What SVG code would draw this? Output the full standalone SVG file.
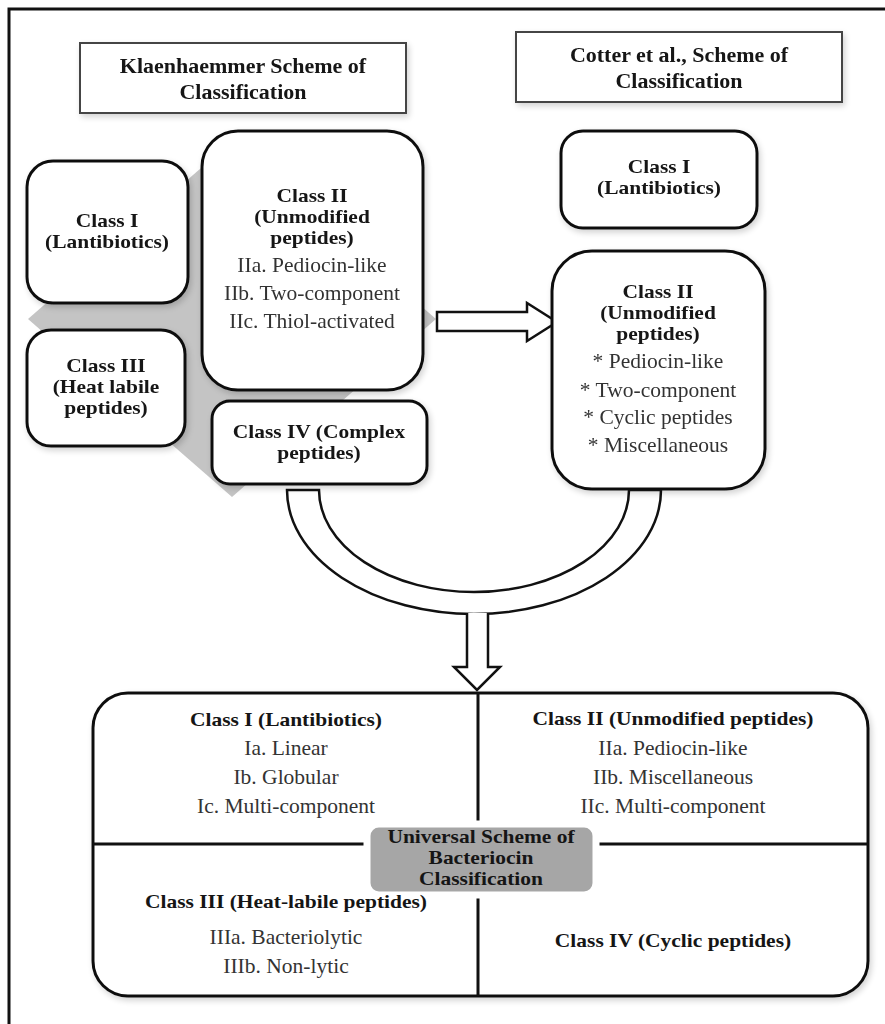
<svg xmlns="http://www.w3.org/2000/svg" width="885" height="1024" viewBox="0 0 885 1024">
<defs>
<filter id="sh" x="-10%" y="-10%" width="130%" height="130%">
<feGaussianBlur in="SourceAlpha" stdDeviation="3"/>
<feOffset dx="2" dy="3" result="b"/>
<feComponentTransfer><feFuncA type="linear" slope="0.18"/></feComponentTransfer>
<feMerge><feMergeNode/><feMergeNode in="SourceGraphic"/></feMerge>
</filter>
<style>
text{font-family:"Liberation Serif","Times New Roman",serif;text-anchor:middle}
.b{font-weight:bold;fill:#151515;font-size:19px}
.t{font-weight:bold;fill:#151515;font-size:20px}
.r{fill:#333;font-size:21.5px}
.node{fill:#fff;stroke:#111;stroke-width:3}
.title{fill:#fff;stroke:#444;stroke-width:2}
.conn{fill:#fff;stroke:#111;stroke-width:2.5;stroke-linejoin:miter}
.div{stroke:#111;stroke-width:3;fill:none}
</style>
</defs>
<rect x="0" y="0" width="885" height="1024" fill="#fff"/>
<rect id="frame" x="9" y="9" width="890" height="1030" fill="none" stroke="#111" stroke-width="3"/>

<polygon id="bg-diamond" points="232,141 436,319 232,497 28,319" fill="#c4c4c4"/>

<g id="connectors">
<path d="M437,312 L527,312 L527,303 L557,322 L527,341 L527,331 L437,331 Z" class="conn"/>
<path d="M287,490 A187,124 0 0 0 661,490 L629,490 A155,102 0 0 1 319,490 Z" class="conn" stroke-width="2"/>
<path d="M467,613 L467,667 L454,667 L477,690 L500,667 L488,667 L488,613" class="conn" stroke-width="2.5"/>
</g>

<g id="title-klaenhaemmer" filter="url(#sh)">
<rect x="80" y="43" width="326" height="70" class="title"/>
<text class="t" transform="translate(243,73) scale(1.1,1)">Klaenhaemmer Scheme of</text>
<text class="t" transform="translate(243,99) scale(1.1,1)">Classification</text>
</g>
<g id="title-cotter" filter="url(#sh)">
<rect x="516" y="32" width="326" height="70" class="title"/>
<text class="t" transform="translate(679,62) scale(1.1,1)">Cotter et al., Scheme of</text>
<text class="t" transform="translate(679,88) scale(1.1,1)">Classification</text>
</g>

<g id="k-class1" filter="url(#sh)">
<rect x="27" y="161" width="161" height="142" rx="26" class="node"/>
<text class="b" transform="translate(107,227) scale(1.13,1)">Class I</text>
<text class="b" transform="translate(107,248) scale(1.13,1)">(Lantibiotics)</text>
</g>
<g id="k-class2" filter="url(#sh)">
<rect x="202" y="131" width="221" height="259" rx="36" class="node"/>
<text class="b" transform="translate(312,202) scale(1.13,1)">Class II</text>
<text class="b" transform="translate(312,223) scale(1.13,1)">(Unmodified</text>
<text class="b" transform="translate(312,244) scale(1.13,1)">peptides)</text>
<text x="312" y="272" class="r">IIa. Pediocin-like</text>
<text x="312" y="300" class="r">IIb. Two-component</text>
<text x="312" y="328" class="r">IIc. Thiol-activated</text>
</g>
<g id="k-class3" filter="url(#sh)">
<rect x="27" y="330" width="158" height="116" rx="24" class="node"/>
<text class="b" transform="translate(106,372) scale(1.13,1)">Class III</text>
<text class="b" transform="translate(106,393) scale(1.13,1)">(Heat labile</text>
<text class="b" transform="translate(106,414) scale(1.13,1)">peptides)</text>
</g>
<g id="k-class4" filter="url(#sh)">
<rect x="212" y="401" width="215" height="83" rx="18" class="node"/>
<text class="b" transform="translate(319,438) scale(1.13,1)">Class IV (Complex</text>
<text class="b" transform="translate(319,459) scale(1.13,1)">peptides)</text>
</g>

<g id="c-class1" filter="url(#sh)">
<rect x="561" y="131" width="196" height="97" rx="22" class="node"/>
<text class="b" transform="translate(659,173) scale(1.13,1)">Class I</text>
<text class="b" transform="translate(659,194) scale(1.13,1)">(Lantibiotics)</text>
</g>
<g id="c-class2" filter="url(#sh)">
<rect x="552" y="251" width="213" height="238" rx="40" class="node"/>
<text class="b" transform="translate(658,298) scale(1.13,1)">Class II</text>
<text class="b" transform="translate(658,319) scale(1.13,1)">(Unmodified</text>
<text class="b" transform="translate(658,340) scale(1.13,1)">peptides)</text>
<text x="658" y="368" class="r">* Pediocin-like</text>
<text x="658" y="397" class="r">* Two-component</text>
<text x="658" y="424" class="r">* Cyclic peptides</text>
<text x="658" y="452" class="r">* Miscellaneous</text>
</g>

<g id="universal">
<rect x="93" y="693" width="775" height="303" rx="35" class="node" filter="url(#sh)"/>
<line x1="478" y1="693" x2="478" y2="996" class="div"/>
<line x1="93" y1="844" x2="868" y2="844" class="div"/>
<g id="u-center">
<rect x="367" y="824" width="229" height="71" rx="12" fill="#a6a6a6" stroke="#fff" stroke-width="7"/>
<text class="b" transform="translate(481,843) scale(1.13,1)">Universal Scheme of</text>
<text class="b" transform="translate(481,864) scale(1.13,1)">Bacteriocin</text>
<text class="b" transform="translate(481,885) scale(1.13,1)">Classification</text>
</g>
<g id="u-class1">
<text class="b" transform="translate(286,726) scale(1.13,1)">Class I (Lantibiotics)</text>
<text x="286" y="755" class="r">Ia. Linear</text>
<text x="286" y="784" class="r">Ib. Globular</text>
<text x="286" y="813" class="r">Ic. Multi-component</text>
</g>
<g id="u-class2">
<text class="b" transform="translate(673,725) scale(1.13,1)">Class II (Unmodified peptides)</text>
<text x="673" y="755" class="r">IIa. Pediocin-like</text>
<text x="673" y="784" class="r">IIb. Miscellaneous</text>
<text x="673" y="813" class="r">IIc. Multi-component</text>
</g>
<g id="u-class3">
<text class="b" transform="translate(286,908) scale(1.13,1)">Class III (Heat-labile peptides)</text>
<text x="286" y="944" class="r">IIIa. Bacteriolytic</text>
<text x="286" y="973" class="r">IIIb. Non-lytic</text>
</g>
<g id="u-class4">
<text class="b" transform="translate(673,947) scale(1.13,1)">Class IV (Cyclic peptides)</text>
</g>
</g>
</svg>
